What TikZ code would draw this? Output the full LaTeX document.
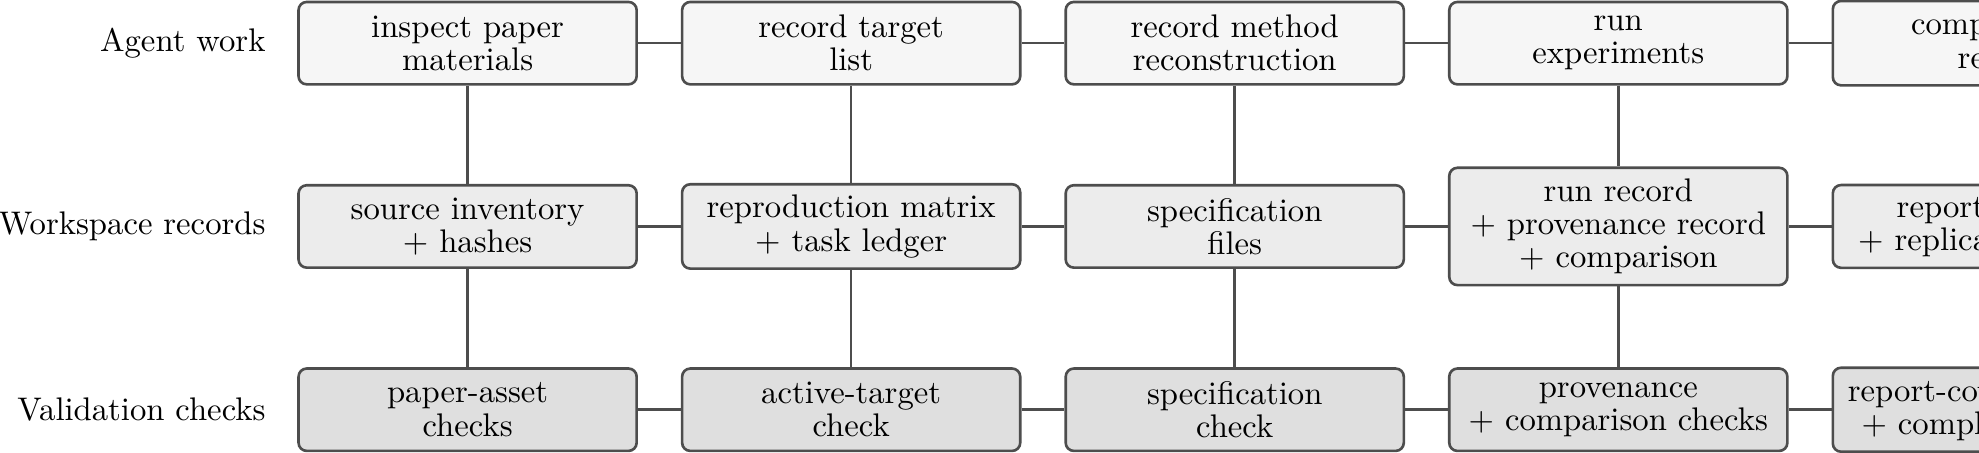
\documentclass[tikz,border=0pt]{standalone}
\usepackage{tikz}
\usetikzlibrary{positioning}
\definecolor{WorkFill}{HTML}{F6F6F6}
\definecolor{RecordFill}{HTML}{ECECEC}
\definecolor{CheckFill}{HTML}{DFDFDF}
\definecolor{Edge}{HTML}{4D4D4D}
\tikzset{
  every picture/.style={line width=0.8pt},
  stagebox/.style={
    draw=Edge,
    rounded corners=2.5pt,
    align=center,
    font={\fontsize{10}{10.2}\selectfont},
    minimum width=103.4pt,
    minimum height=25.2pt,
    inner sep=3.3pt
  },
  workbox/.style={stagebox, fill=WorkFill},
  recordbox/.style={stagebox, fill=RecordFill},
  checkbox/.style={stagebox, fill=CheckFill},
  link/.style={draw=Edge},
  rowlabel/.style={font={\fontsize{10}{10.2}\selectfont}, anchor=east, inner sep=0pt}
}

\begin{document}
\begin{tikzpicture}[node distance=30.05pt and 13.1pt]
  \useasboundingbox (-143pt,13.2pt) rectangle (462.2pt,-125.3pt);
  \clip (-143pt,13.2pt) rectangle (462.2pt,-125.3pt);

  % agent work
  \node[workbox] (a1) {inspect paper\\materials};
  \node[workbox, right=of a1] (a2) {record target\\list};
  \node[workbox, right=of a2] (a3) {record method\\reconstruction};
  \node[workbox, right=of a3] (a4) {run\\experiments};
  \node[workbox, right=of a4] (a5) {compile final\\report};

  \draw[link] (a1) -- (a2);
  \draw[link] (a2) -- (a3);
  \draw[link] (a3) -- (a4);
  \draw[link] (a4) -- (a5);

  % workspace records
  \node[recordbox, below=of a1] (w1) {source inventory\\+ hashes};
  \node[recordbox, right=of w1] (w2) {reproduction matrix\\+ task ledger};
  \node[recordbox, right=of w2] (w3) {specification\\files};
  \node[recordbox, right=of w3] (w4) {run record\\+ provenance record\\+ comparison};
  \node[recordbox, right=of w4] (w5) {report sections\\+ replication record};

  \draw[link] (w1) -- (w2);
  \draw[link] (w2) -- (w3);
  \draw[link] (w3) -- (w4);
  \draw[link] (w4) -- (w5);

  % validation checks
  \node[checkbox, below=of w1] (v1) {paper-asset\\checks};
  \node[checkbox, right=of v1] (v2) {active-target\\check};
  \node[checkbox, right=of v2] (v3) {specification\\check};
  \node[checkbox, right=of v3] (v4) {provenance\\+ comparison checks};
  \node[checkbox, right=of v4] (v5) {report-coverage check\\+ completion check};

  \draw[link] (v1) -- (v2);
  \draw[link] (v2) -- (v3);
  \draw[link] (v3) -- (v4);
  \draw[link] (v4) -- (v5);

  % columns
  \draw[link] (a1) -- (w1);
  \draw[link] (w1) -- (v1);
  \draw[link] (a2) -- (w2);
  \draw[link] (w2) -- (v2);
  \draw[link] (a3) -- (w3);
  \draw[link] (w3) -- (v3);
  \draw[link] (a4) -- (w4);
  \draw[link] (w4) -- (v4);
  \draw[link] (a5) -- (w5);
  \draw[link] (w5) -- (v5);

  % row labels
  \node[rowlabel, left=9.3pt of a1] (l1) {Agent work};
  \node[rowlabel, left=9.3pt of w1] (l2) {Workspace records};
  \node[rowlabel, left=9.3pt of v1] (l3) {Validation checks};
\end{tikzpicture}
\end{document}
